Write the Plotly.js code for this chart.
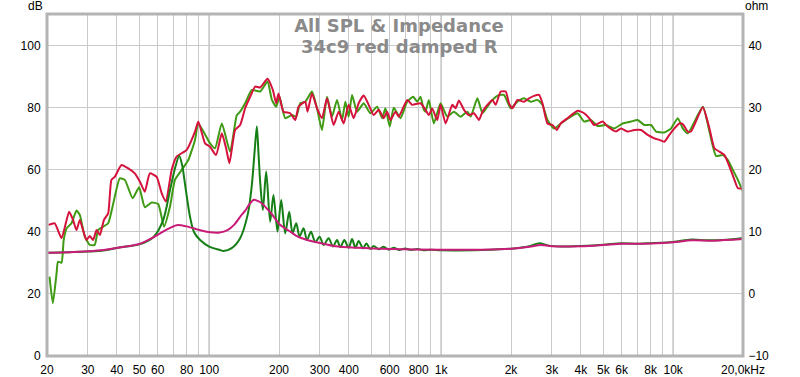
<!DOCTYPE html>
<html>
<head>
<meta charset="utf-8">
<script src="https://cdn.plot.ly/plotly-3.0.1.min.js"></script>
<style>html,body{margin:0;padding:0;background:#fff;}#chart{width:800px;height:377px;}</style>
</head>
<body>
<div id="chart"></div>
<script>
// ---- Data ----
const splGreenFreq = [20.5,21.2,22.0,22.3,23.1,23.6,24.3,25.5,26.8,27.7,29.1,30.6,32.1,33.2,34.9,36.7,38.6,41.2,43.3,46.8,49.9,52.8,56.5,60.3,63.9,67.8,71.2,76.1,81.3,86.9,89.8,100.9,106,113.4,123.1,131.6,136,142.9,152.7,165.9,178.4,186.4,194.5,201,212.7,227.4,237.3,247,259.6,277.4,291.6,306.4,322.1,338.5,355.8,373.9,386.4,399.3,413,434.1,463.5,495.5,529.6,556.6,575.1,600.2,624.6,667.6,713.8,757.6,788.4,814.6,841.9,856,884.8,930,994,1063,1135,1213,1297,1340,1433,1506,1582,1663,1776,1866,1994,2131,2276,2433,2601,2733,2873,3067,3279,3622,3872,4134,4420,4724,5132,5573,6058,6581,7032,7510,8028,8438,9162,9794,10470,11003,11563,13423,14334,15320,16378,17212,18090,19012,19982];
const splGreenDb = [25.6,17,26.8,30.4,30.1,37.4,41.2,42.8,46.9,45.5,38.5,35.8,35.8,40.6,41.7,42.8,49.2,57.3,56.8,50.9,54.4,48,49.5,49,41.7,48.2,56.8,60,63.2,69.7,75,68.6,67,75,65.9,77.7,78.8,81.5,85.8,85.3,88.5,82.6,80.4,83.6,76.7,77.7,77.2,81.5,82,85.3,79.9,72.9,83.6,77.2,82.6,76.1,82,77.2,84.2,78.8,81.5,78.3,80.4,76.7,79.9,74,80.1,76.7,82,83.6,82,83.6,79.4,78.8,82.6,75,81.5,77.2,78.8,77.2,78.8,77.2,83.1,78.3,80.4,82.6,84.2,84.2,79.9,82,83.1,82,82.6,81,76.1,73.4,75,77.2,78.3,75.6,76.1,74.2,74.5,73.4,75,75.6,76.1,74.5,74.5,72.4,72.1,73.4,76.7,73.4,71.8,80.4,72.4,64.5,64.8,63.2,60,56.8,53];

const splRedFreq = [20.3,21.6,23.1,24.9,25.9,26.8,27.7,28.6,29.6,30.6,31.6,32.7,33.8,35.2,36.7,37.9,39.2,41.9,44.8,47.8,50.3,52.8,55.5,59.4,62.4,65.1,68.9,72.4,80.0,86.9,89.8,96.0,100.9,107,113.4,118.3,122.3,129.4,136,142.9,150.2,157.9,165.9,178.4,188.2,194.5,199,209.1,223.6,235,242.8,259.6,265.6,277.4,291.6,306.4,322.1,343.9,361.5,379.9,399.3,419.6,441,463.5,487.1,512,538.1,565.5,584.9,604.4,635.2,656.5,713.8,750.1,814.6,856,885,915,962,994,1045,1117,1154,1193,1254,1318,1385,1455,1506,1582,1663,1718,1806,1898,1961,2028,2131,2276,2392,2514,2642,2733,2873,3019,3151,3279,3504,3872,4134,4345,4567,4966,5219,5668,5956,6368,6800,7268,7768,8296,8718,9162,9628,10120,10637,11003,11563,11948,13423,14334,15064,15831,16640,17488,18380,19012,19982];
const splRedDb = [42.3,42.8,38,46.5,43.9,40.6,43.9,40.6,37.4,38.7,37.4,40.6,39,43.9,46,56.8,57.8,61.6,60.5,58.9,56.2,53,58.9,57.8,52.5,49.8,60,64.3,66.5,72.4,75.6,68.6,67.5,64.8,71.8,67,62.2,72.9,74.5,79.9,83.6,86.9,86.6,89.4,85.8,81.5,84.7,78.8,78.3,76.1,80.4,82,78.8,84.7,79.9,76.7,83.1,74.5,78.8,75,81,76.7,81.5,84,81,77.7,79.4,76.7,78.8,76.1,78.8,77.2,82.6,81,81.5,79.4,77.7,79.8,76.1,81,75,81,79.9,82.4,79.4,77.7,78.3,76.1,78.8,81,82.6,81,85.3,85.3,81.5,79.9,82.6,82,83.1,83.9,84.2,81.5,75,74.5,72.9,75,76.7,79.1,78.3,76.7,74.5,75.6,74,72.4,73.4,72.4,72.9,72.9,71.3,70.2,69.7,69.1,71.3,73.4,75,74.8,72.4,72.4,80.2,73.4,67,65.9,64.8,61.1,56.8,54.1,54.1];

const impGreenFreq = [20,25,30,35,41,50,57.6,63.4,67.8,71.2,74.3,76.5,78.6,82.7,86,91.4,100,111.4,115.2,125,136,147,152.7,157,160.5,163,165.9,170.4,176.1,183.2,189.3,197,204.4,212.7,221.4,228.7,237.3,245.3,255.2,264,274.7,286.7,299.2,311.4,327.2,341.9,355.8,367.7,382.6,399.3,413,426.8,441,460.7,476.1,495.5,512,538,565,595,625,660,700,740,790,840,900,1000,1500,2000,2400,2650,2900,3300,4000,5000,6000,7000,8000,10000,12000,14000,17000,20000];
const impGreenOhm = [6.65,6.75,6.85,7.0,7.5,8.0,9.2,11.95,16.75,20.25,22.25,20.75,17.85,12.45,10.0,8.7,7.65,7.1,6.95,7.4,9.0,13.0,17.5,23.0,27.0,23.0,18.1,13.55,19.75,11.65,15.95,10.05,15.15,9.8,13.25,9.8,11.4,9.25,10.6,8.7,10.05,8.35,9.25,7.9,9.0,7.65,8.7,7.55,8.7,7.45,8.85,7.45,8.55,7.35,8.15,7.25,7.75,7.2,7.6,7.15,7.45,7.1,7.35,7.1,7.25,7.05,7.15,7.05,7.1,7.3,7.7,8.2,7.8,7.65,7.75,7.95,8.2,8.1,8.2,8.4,8.8,8.65,8.75,9.05];

const impMagentaFreq = [20,25,30,35,41,50,57.6,65,72.4,80,90,101,111,120,128,136,143,150,156,162,170,178,186,202,224,240,255,280,311,350,434,604,1000,1500,2000,2400,2700,3000,4000,5000,6000,7000,8000,10000,12000,15000,20000];
const impMagentaOhm = [6.65,6.75,6.9,7.1,7.5,8.05,9.15,10.3,11.1,10.9,10.35,9.95,9.9,10.3,11.15,12.45,13.45,14.6,15.2,15.0,14.5,13.7,12.9,11.15,10.05,9.3,8.9,8.45,8.1,7.7,7.45,7.25,7.15,7.15,7.3,7.6,7.9,7.7,7.7,7.9,8.1,8.1,8.15,8.35,8.65,8.6,8.85];

const xTickVals = [20,30,40,50,60,70,80,90,100,200,300,400,500,600,700,800,900,1000,2000,3000,4000,5000,6000,7000,8000,9000,10000,20000];
const xTickText = ['20','30','40','50','60','','80','','100','200','300','400','','600','','800','','1k','2k','3k','4k','5k','6k','','8k','','10k','20,0kHz'];
const yTickVals = [0,20,40,60,80,100];
const y2TickVals = [-10,0,10,20,30,40];
const darkGridVals = [100,1000,10000];
const titleLine1 = 'All SPL & Impedance';
const titleLine2 = '34c9 red damped R';

// ---- Traces ----
const tickFont = {family: 'Liberation Sans, Arial, sans-serif', size: 12, color: '#000'};
const titleFont = {family: 'DejaVu Sans, sans-serif', size: 18, color: '#8a8a8a', weight: 'bold'};
const traces = [
  {x: splGreenFreq, y: splGreenDb, type: 'scatter', mode: 'lines', line: {color: '#3f9a14', width: 2, shape: 'spline', smoothing: 0.5}, yaxis: 'y', hoverinfo: 'skip'},
  {x: splRedFreq, y: splRedDb, type: 'scatter', mode: 'lines', line: {color: '#d4123c', width: 2, shape: 'spline', smoothing: 0.5}, yaxis: 'y', hoverinfo: 'skip'},
  {x: impGreenFreq, y: impGreenOhm, type: 'scatter', mode: 'lines', line: {color: '#157f15', width: 2, shape: 'spline', smoothing: 0.8}, yaxis: 'y2', hoverinfo: 'skip'},
  {x: impMagentaFreq, y: impMagentaOhm, type: 'scatter', mode: 'lines', line: {color: '#c81c78', width: 2, shape: 'spline', smoothing: 0.8}, yaxis: 'y2', hoverinfo: 'skip'}
];

const shapes = darkGridVals.map(v => ({type: 'line', xref: 'x', yref: 'paper', x0: v, x1: v, y0: 0, y1: 1, line: {color: '#8c8c8c', width: 1}, layer: 'below'}));
shapes.push({type: 'rect', xref: 'paper', yref: 'paper', x0: 0, x1: 1, y0: 0, y1: 1, line: {color: '#b4b4b4', width: 3}, layer: 'above'});

const layout = {
  width: 800, height: 377,
  margin: {l: 47, r: 57, t: 14, b: 21, pad: 0},
  paper_bgcolor: '#fff', plot_bgcolor: '#fff',
  showlegend: false,
  title: {
    text: titleLine1,
    font: titleFont,
    x: 399/800, xanchor: 'center', xref: 'container',
    y: 1 - 26/377, yanchor: 'middle', yref: 'container'
  },
  xaxis: {
    type: 'log', range: [Math.log10(20), Math.log10(20000)],
    tickvals: xTickVals, ticktext: xTickText, tickfont: tickFont,
    showgrid: true, gridcolor: '#cacaca', gridwidth: 1,
    zeroline: false, showline: false,
    ticks: 'outside', ticklen: 3, tickcolor: 'rgba(0,0,0,0)'
  },
  yaxis: {
    range: [0, 110.3], tickvals: yTickVals, tickfont: tickFont,
    showgrid: true, gridcolor: '#cacaca', gridwidth: 1,
    zeroline: false, showline: false,
    ticks: 'outside', ticklen: 3, tickcolor: 'rgba(0,0,0,0)'
  },
  yaxis2: {
    overlaying: 'y', side: 'right',
    range: [-10, 45.15], tickvals: y2TickVals, tickfont: tickFont,
    showgrid: false, zeroline: false, showline: false,
    ticks: 'outside', ticklen: 2, tickcolor: 'rgba(0,0,0,0)'
  },
  shapes: shapes,
  annotations: [
    {text: titleLine2, xref: 'paper', yref: 'paper', x: (399 - 47) / 696, y: (356 - 46) / 342, xanchor: 'center', yanchor: 'middle', showarrow: false, font: titleFont},
    {text: 'dB', xref: 'paper', yref: 'paper', x: (35 - 47) / 696, y: (356 - 6) / 342, xanchor: 'center', yanchor: 'middle', showarrow: false, font: tickFont},
    {text: 'ohm', xref: 'paper', yref: 'paper', x: (756 - 47) / 696, y: (356 - 6) / 342, xanchor: 'center', yanchor: 'middle', showarrow: false, font: tickFont}
  ]
};

Plotly.newPlot('chart', traces, layout, {staticPlot: true, displayModeBar: false});
</script>
</body>
</html>
